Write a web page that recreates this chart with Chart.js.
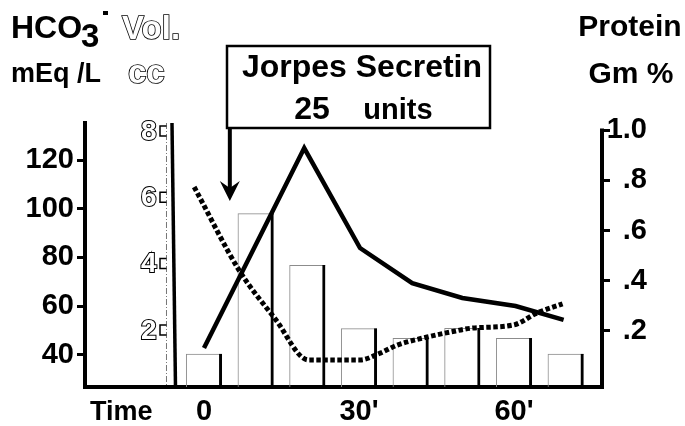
<!DOCTYPE html>
<html lang="en">
<head>
<meta charset="UTF-8">
<title>Jorpes Secretin response</title>
<script src="https://cdn.jsdelivr.net/npm/chart.js"></script>
<style>
  html, body { margin: 0; padding: 0; background: #fff; }
  canvas { display: block; }
</style>
</head>
<body>
<canvas id="chart" width="685" height="426"></canvas>
<script>
// time in minutes, 0 = start of collection
const volTimes = [0, 10, 20, 30, 40, 50, 60, 70];
const volumes = [1.31, 5.55, 3.99, 2.08, 1.79, 2.09, 1.79, 1.31]; // cc
const hco3Times = [0, 19.4, 30.2, 40.3, 50, 60.3, 69.6];
const hco3Values = [42.9, 124.9, 83.9, 69.5, 63.4, 60.1, 54.4]; // mEq/L
const proteinTimes = [-1.9, 7, 13.8, 20.2, 30.2, 34.1, 37.4, 43.2, 47.7, 52.1, 59.9, 64.5, 69.4];
const proteinValues = [0.773, 0.435, 0.248, 0.085, 0.085, 0.112, 0.144, 0.176, 0.196, 0.212, 0.224, 0.272, 0.308]; // Gm %
const timeTicks = [0, 30, 60];
const timeLabels = ['0', "30'", "60'"];
const hco3Ticks = [40, 60, 80, 100, 120];
const volTicks = [2, 4, 6, 8];
const proteinTicks = [0.2, 0.4, 0.6, 0.8, 1.0];
const injectionTime = 5;   // secretin given here
const volAxisTime = -6;    // where the volume axis stands on the time scale

const digitFont = { family: '"Liberation Sans"', weight: 'bold', size: 29 };

const toPoints = (xs, ys) => xs.map((x, i) => ({ x: x, y: ys[i] }));

// titles, the secretin box and arrow, volume axis, right axis line
const labelsPlugin = {
    id: 'labels',
    afterDraw(chart) {
        const ctx = chart.ctx;
        const xs = chart.scales.x;
        const yp = chart.scales.yp;
        const yv = chart.scales.yv;
        const area = chart.chartArea;
        ctx.save();
        ctx.fillStyle = '#000';
        ctx.strokeStyle = '#000';
        ctx.textBaseline = 'alphabetic';

        // left headings
        ctx.font = 'bold 32px "Liberation Sans"';
        ctx.fillText('HCO', 11, 38);
        ctx.font = 'bold 33px "Liberation Sans"';
        ctx.fillText('3', 81, 47);
        ctx.fillRect(103, 11, 5, 4);
        ctx.font = 'bold 27px "Liberation Sans"';
        ctx.fillText('mEq /L', 11, 82);

        // outlined volume heading
        ctx.lineWidth = 1.6;
        ctx.fillStyle = '#fff';
        ctx.font = 'bold 33px "Liberation Sans"';
        ctx.strokeText('Vol.', 122, 39);
        ctx.fillText('Vol.', 122, 39);
        ctx.strokeText('cc', 128, 83);
        ctx.fillText('cc', 128, 83);
        ctx.fillStyle = '#000';

        // right heading
        ctx.textAlign = 'center';
        ctx.font = 'bold 30px "Liberation Sans"';
        ctx.fillText('Protein', 630, 36);
        ctx.fillText('Gm %', 631, 83);

        // x axis name
        ctx.textAlign = 'left';
        ctx.font = 'bold 27px "Liberation Sans"';
        ctx.fillText('Time', 90, 420);

        // secretin box
        ctx.lineWidth = 2.5;
        ctx.strokeRect(227, 46, 263, 82);
        ctx.textAlign = 'center';
        ctx.font = 'bold 32px "Liberation Sans"';
        ctx.fillText('Jorpes Secretin', 362, 77);
        ctx.fillText('25', 312, 119);
        ctx.font = 'bold 29px "Liberation Sans"';
        ctx.fillText('units', 398, 119);

        // arrow to injection time
        const ax = xs.getPixelForValue(injectionTime);
        ctx.lineWidth = 4;
        ctx.beginPath();
        ctx.moveTo(ax, 127);
        ctx.lineTo(ax, 190);
        ctx.stroke();
        ctx.beginPath();
        ctx.moveTo(ax - 10, 181);
        ctx.lineTo(ax, 201);
        ctx.lineTo(ax + 10, 181);
        ctx.lineTo(ax, 188);
        ctx.closePath();
        ctx.fill();

        // volume axis: thin dashed edge, heavy edge, bracket ticks
        const vx = xs.getPixelForValue(volAxisTime);
        ctx.lineWidth = 1;
        ctx.strokeStyle = '#777';
        ctx.setLineDash([6, 2, 1, 2]);
        ctx.beginPath();
        ctx.moveTo(vx - 6.5, area.top);
        ctx.lineTo(vx - 6.5, area.bottom);
        ctx.stroke();
        ctx.setLineDash([]);
        ctx.strokeStyle = '#000';
        ctx.lineWidth = 3.5;
        ctx.beginPath();
        ctx.moveTo(vx - 1, area.top);
        ctx.lineTo(vx + 2.5, area.bottom);
        ctx.stroke();
        ctx.lineWidth = 1.5;
        volTicks.forEach(v => {
            const ty = yv.getPixelForValue(v);
            ctx.beginPath();
            ctx.moveTo(vx - 6.5, ty - 6);
            ctx.lineTo(vx - 13, ty - 6);
            ctx.lineTo(vx - 13, ty + 4);
            ctx.lineTo(vx - 6.5, ty + 4);
            ctx.stroke();
        });

        // right axis line, only up to 1.0
        ctx.lineWidth = 4;
        ctx.beginPath();
        ctx.moveTo(area.right, yp.getPixelForValue(1.0) - 1.5);
        ctx.lineTo(area.right, area.bottom + 2);
        ctx.stroke();
        ctx.restore();
    }
};

new Chart(document.getElementById('chart'), {
    data: {
        datasets: [
            {
                type: 'line',
                label: 'HCO3',
                data: toPoints(hco3Times, hco3Values),
                yAxisID: 'y',
                borderColor: '#000',
                borderWidth: 4.5,
                pointRadius: 0,
                tension: 0,
                order: 0
            },
            {
                type: 'line',
                label: 'Protein',
                data: toPoints(proteinTimes, proteinValues),
                yAxisID: 'yp',
                borderColor: '#000',
                borderWidth: 5,
                borderDash: [4.5, 2.5],
                pointRadius: 0,
                cubicInterpolationMode: 'monotone',
                order: 0
            },
            {
                // thin left and top edges
                type: 'bar',
                label: 'Vol',
                data: toPoints(volTimes, volumes),
                yAxisID: 'yv',
                backgroundColor: 'rgba(0,0,0,0)',
                borderColor: '#8c8c8c',
                borderWidth: { left: 1, top: 1, right: 0, bottom: 0 },
                grouped: false,
                barPercentage: 0.7,
                categoryPercentage: 1,
                order: 2
            },
            {
                // heavy right edge
                type: 'bar',
                label: 'Vol edge',
                data: toPoints(volTimes, volumes),
                yAxisID: 'yv',
                backgroundColor: 'rgba(0,0,0,0)',
                borderColor: '#000',
                borderWidth: { left: 0, top: 0, right: 3, bottom: 0 },
                grouped: false,
                barPercentage: 0.7,
                categoryPercentage: 1,
                order: 1
            }
        ]
    },
    options: {
        responsive: false,
        animation: false,
        devicePixelRatio: 1,
        layout: { padding: { top: 123, left: 0, right: 38, bottom: 0 } },
        plugins: {
            legend: { display: false },
            tooltip: { enabled: false }
        },
        scales: {
            x: {
                type: 'linear',
                position: 'bottom',
                offset: false,
                min: -23.03,
                max: 77.03,
                afterBuildTicks: s => { s.ticks = timeTicks.map(v => ({ value: v })); },
                afterFit: s => { s.height = 39; },
                grid: { display: false, drawTicks: false, offset: false },
                border: { display: true, width: 4, color: '#000' },
                ticks: {
                    font: digitFont,
                    color: '#000',
                    padding: 8,
                    maxRotation: 0,
                    callback: v => timeLabels[timeTicks.indexOf(v)]
                }
            },
            y: {
                type: 'linear',
                position: 'left',
                min: 26.87,
                max: 135.18,
                afterBuildTicks: s => { s.ticks = hco3Ticks.map(v => ({ value: v })); },
                afterFit: s => { s.width = 85; },
                grid: { drawOnChartArea: false, tickLength: 8, lineWidth: 3, color: '#000' },
                border: { display: true, width: 4, color: '#000' },
                ticks: { font: digitFont, color: '#000', padding: 3 }
            },
            yp: {
                type: 'linear',
                position: 'right',
                min: -0.0229,
                max: 1.0279,
                afterBuildTicks: s => { s.ticks = proteinTicks.map(v => ({ value: v })); },
                afterFit: s => { s.width = 45; },
                grid: { drawOnChartArea: false, tickLength: 8, lineWidth: 3, color: '#000' },
                border: { display: false },
                ticks: {
                    font: digitFont,
                    color: '#000',
                    padding: 1,
                    crossAlign: 'far',
                    callback: v => v === 1 ? '1.0' : '.' + Math.round(v * 10)
                }
            },
            // volume scale, numbers drawn outlined inside the plot
            yv: {
                type: 'linear',
                position: { x: -9.2 },
                min: 0.31,
                max: 8.27,
                afterBuildTicks: s => { s.ticks = volTicks.map(v => ({ value: v })); },
                grid: { display: false, drawTicks: false },
                border: { display: false },
                ticks: {
                    font: { family: '"Liberation Sans"', weight: 'bold', size: 28 },
                    color: '#fff',
                    textStrokeColor: '#000',
                    textStrokeWidth: 2
                }
            }
        }
    },
    plugins: [labelsPlugin]
});
</script>
</body>
</html>
